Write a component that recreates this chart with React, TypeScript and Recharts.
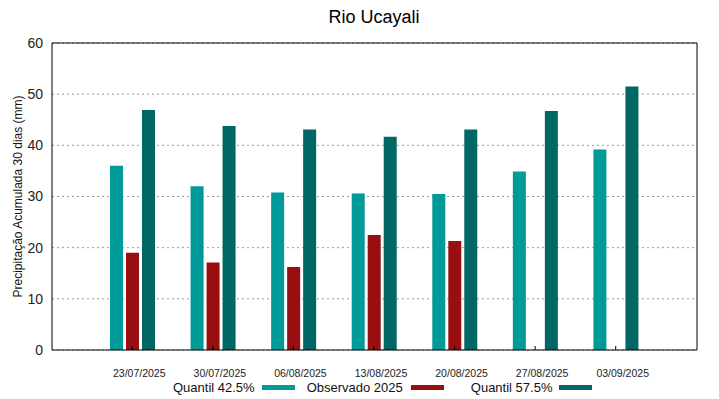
import { BarChart, Bar, XAxis, YAxis, CartesianGrid, Legend } from 'recharts';

const dates = ['23/07/2025', '30/07/2025', '06/08/2025', '13/08/2025', '20/08/2025', '27/08/2025', '03/09/2025'];
const quantil425 = [36.0, 32.0, 30.8, 30.6, 30.5, 34.9, 39.2];
const observado2025: (number | null)[] = [19.0, 17.1, 16.2, 22.5, 21.3, null, null];
const quantil575 = [46.9, 43.8, 43.1, 41.7, 43.1, 46.7, 51.5];
const yTicks = [0, 10, 20, 30, 40, 50, 60];

const series = [
    { key: 'q425', name: 'Quantil 42.5%', color: '#009a99' },
    { key: 'obs', name: 'Observado 2025', color: '#990f0f' },
    { key: 'q575', name: 'Quantil 57.5%', color: '#006764' },
];

const data = dates.map((d, i) => ({
    date: d,
    q425: quantil425[i],
    obs: observado2025[i],
    q575: quantil575[i],
}));

const FONT = '"Liberation Sans", Arial, sans-serif';

const DateTick = (props: any) => {
    const { x, y, payload } = props;
    return (
        <g>
            <line x1={x} y1={y} x2={x} y2={y - 4} stroke="#000" />
            <text x={x + 7} y={y + 27} textAnchor="middle" fontSize={10.5} fill="#222">{payload.value}</text>
        </g>
    );
};

const gaps = [7, 8, 7];
const after = [12, 27, 0];

const LegendBox = () => (
    <div style={{ height: 24, display: 'flex', alignItems: 'center', paddingLeft: 173, fontSize: 13, color: '#111', fontFamily: FONT }}>
        {series.map((s, i) => (
            <div key={s.key} style={{ display: 'flex', alignItems: 'center', marginRight: after[i] }}>
                <span>{s.name}</span>
                <span style={{ display: 'inline-block', width: 33, height: 5, marginLeft: gaps[i], background: s.color }} />
            </div>
        ))}
    </div>
);

export default function App() {
    return (
        <div style={{ position: 'absolute', left: 0, top: 0, width: 719, height: 399, background: '#fff', fontFamily: FONT }}>
            <div style={{ position: 'absolute', left: 0, top: 8, width: 748, textAlign: 'center', fontSize: 18, lineHeight: '18px', color: '#000' }}>
                Rio Ucayali
            </div>
            <BarChart width={719} height={399} data={data} margin={{ top: 42, right: 21, left: 0, bottom: 0 }}
                barSize={13} barGap={3}>
                <CartesianGrid vertical={false} stroke="#999" strokeDasharray="2 3" />
                <XAxis dataKey="date" height={25} tickSize={0} tickMargin={0} tickLine={false}
                    axisLine={{ stroke: '#000' }} tick={<DateTick />} padding={{ left: 40, right: 41 }} interval={0} />
                <XAxis xAxisId="top" dataKey="date" orientation="top" height={1} tick={false} tickLine={false}
                    axisLine={{ stroke: '#000' }} />
                <YAxis domain={[0, 60]} ticks={yTicks} width={52} tickSize={0} tickMargin={9} tickLine={false}
                    axisLine={{ stroke: '#000' }} tick={{ fontSize: 14, fill: '#222' }}
                    label={{ value: 'Precipitação Acumulada 30 dias (mm)', angle: -90, position: 'insideLeft', offset: 18, style: { textAnchor: 'middle', fontSize: 12, fill: '#111' } }} />
                <YAxis yAxisId="right" orientation="right" domain={[0, 60]} width={1} tick={false} tickLine={false}
                    axisLine={{ stroke: '#000' }} />
                <Legend verticalAlign="bottom" content={<LegendBox />} />
                {series.map(s => (
                    <Bar key={s.key} dataKey={s.key} name={s.name} fill={s.color} isAnimationActive={false} />
                ))}
            </BarChart>
        </div>
    );
}
